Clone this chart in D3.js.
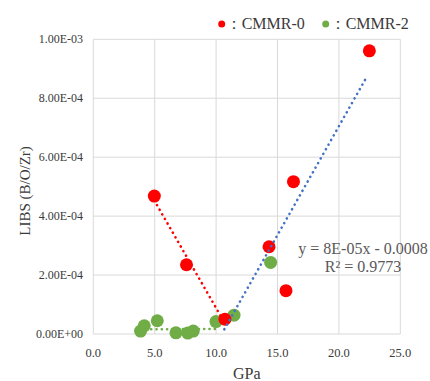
<!DOCTYPE html>
<meta charset="utf-8">
<script src="https://d3js.org/d3.v7.min.js"></script>
<style>
  body { margin: 0; background: #fff; }
</style>
<body>
<div id="chart"></div>
<script>
// CMMR-0 (red) points: GPa, LIBS
var redX = [4.97, 7.59, 10.72, 14.31, 15.69, 16.3, 22.48];
var redY = [4.68e-4, 2.35e-4, 0.50e-4, 2.96e-4, 1.47e-4, 5.17e-4, 9.61e-4];
// CMMR-2 (green) points
var greenX = [3.85, 4.15, 5.21, 6.73, 7.69, 8.14, 9.99, 11.46, 14.44];
var greenY = [0.10e-4, 0.28e-4, 0.45e-4, 0.04e-4, 0.03e-4, 0.10e-4, 0.42e-4, 0.64e-4, 2.43e-4];
// dotted trend lines: [x0, y0, x1, y1]
var redTrend = [4.97, 4.53e-4, 10.72, 0.36e-4];
var greenTrend = [3.85, 0.16e-4, 9.99, 0.17e-4];
var blueTrend = [10.67, 0.16e-4, 22.3, 8.75e-4];
var xTicks = [0, 5, 10, 15, 20, 25];
var yTicks = [0, 2e-4, 4e-4, 6e-4, 8e-4, 1e-3];
var yTickLabels = ["0.00E+00", "2.00E-04", "4.00E-04", "6.00E-04", "8.00E-04", "1.00E-03"];
var eqLines = ["y = 8E-05x - 0.0008", "R² = 0.9773"];

var W = 430, H = 381;
var serif = "'Liberation Serif', 'DejaVu Serif', serif";
var svg = d3.select("#chart").append("svg").attr("width", W).attr("height", H)
  .attr("font-family", serif);

var x = d3.scaleLinear().domain([0, 25]).range([93.3, 400.3]);
var y = d3.scaleLinear().domain([0, 1e-3]).range([334, 39.3]);

// grid
svg.append("g").selectAll("line").data(xTicks).enter().append("line")
  .attr("x1", function(d) { return x(d); }).attr("x2", function(d) { return x(d); })
  .attr("y1", y(0)).attr("y2", y(1e-3))
  .attr("stroke", "#d9d9d9").attr("stroke-width", 1);
svg.append("g").selectAll("line").data(yTicks).enter().append("line")
  .attr("x1", x(0)).attr("x2", x(25))
  .attr("y1", function(d) { return y(d); }).attr("y2", function(d) { return y(d); })
  .attr("stroke", "#d9d9d9").attr("stroke-width", 1);

// tick labels
svg.append("g").selectAll("text").data(xTicks).enter().append("text")
  .attr("x", function(d) { return x(d); }).attr("y", 357)
  .attr("text-anchor", "middle").attr("font-size", 12.5).attr("fill", "#3a3a3a")
  .text(function(d) { return d.toFixed(1); });
svg.append("g").selectAll("text").data(yTicks).enter().append("text")
  .attr("x", 83).attr("y", function(d) { return y(d) + 4; })
  .attr("text-anchor", "end").attr("font-size", 12).attr("fill", "#3a3a3a")
  .text(function(d, i) { return yTickLabels[i]; });

// axis titles
svg.append("text").attr("x", x(12.5)).attr("y", 379)
  .attr("text-anchor", "middle").attr("font-size", 16).attr("fill", "#3a3a3a").text("GPa");
svg.append("text").attr("transform", "translate(30,191) rotate(-90)")
  .attr("text-anchor", "middle").attr("font-size", 15).attr("fill", "#3a3a3a").text("LIBS (B/O/Zr)");

// trend lines
function trend(t, color) {
  svg.append("line")
    .attr("x1", x(t[0])).attr("y1", y(t[1])).attr("x2", x(t[2])).attr("y2", y(t[3]))
    .attr("stroke", color).attr("stroke-width", 2.6)
    .attr("stroke-dasharray", "0.1 5.2").attr("stroke-linecap", "round");
}
trend(redTrend, "#ff0000");
trend(greenTrend, "#70ad47");

// points
svg.append("g").selectAll("circle").data(greenX).enter().append("circle")
  .attr("cx", function(d) { return x(d); })
  .attr("cy", function(d, i) { return y(greenY[i]); })
  .attr("r", 6.5).attr("fill", "#70ad47");
svg.append("g").selectAll("circle").data(redX).enter().append("circle")
  .attr("cx", function(d) { return x(d); })
  .attr("cy", function(d, i) { return y(redY[i]); })
  .attr("r", 6.5).attr("fill", "#ff0000");

trend(blueTrend, "#4472c4");

// equation
svg.append("g").selectAll("text").data(eqLines).enter().append("text")
  .attr("x", 363).attr("y", function(d, i) { return 254 + i * 17.5; })
  .attr("text-anchor", "middle").attr("font-size", 16).attr("fill", "#595959")
  .text(function(d) { return d; });

// legend
var legend = [{label: "：CMMR-0", color: "#ff0000", x: 221.7}, {label: "：CMMR-2", color: "#70ad47", x: 325.7}];
var lg = svg.append("g").selectAll("g").data(legend).enter().append("g");
lg.append("circle").attr("cx", function(d) { return d.x; }).attr("cy", 24)
  .attr("r", 3.5).attr("fill", function(d) { return d.color; });
lg.append("text").attr("x", function(d) { return d.x + 4; }).attr("y", 29)
  .attr("font-size", 16).attr("fill", "#3a3a3a")
  .text(function(d) { return d.label; });
</script>
</body>
